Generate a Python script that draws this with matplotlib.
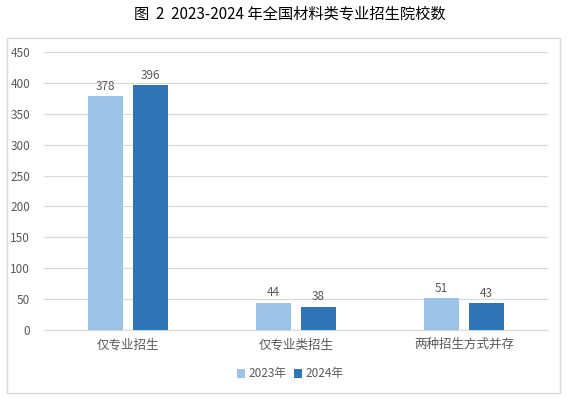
import matplotlib.pyplot as plt
import numpy as np
from matplotlib.patches import Rectangle

plt.rcParams['font.family'] = ['Noto Sans CJK SC', 'DejaVu Sans']

categories = ["仅专业招生", "仅专业类招生", "两种招生方式并存"]
series_names = ["2023年", "2024年"]
values_2023 = [378, 44, 51]
values_2024 = [396, 38, 43]
yticks = [0, 50, 100, 150, 200, 250, 300, 350, 400, 450]

colors = ["#9DC3E6", "#2E75B6"]
text_color = "#595959"

fig = plt.figure(figsize=(5.68, 3.99), dpi=100)
fig.patches.append(Rectangle((7 / 568, 1 - 393 / 399), 553 / 568, 355 / 399,
                             transform=fig.transFigure, fill=False,
                             edgecolor="#D9D9D9", linewidth=1))
ax = fig.add_axes([44 / 568, 1 - 330 / 399, 504 / 568, 278 / 399])

x = np.arange(len(categories))
width = 0.214
offset = 0.134
bars1 = ax.bar(x - offset, values_2023, width, color=colors[0], label=series_names[0], zorder=3)
bars2 = ax.bar(x + offset, values_2024, width, color=colors[1], label=series_names[1], zorder=3)

for bars in [bars1, bars2]:
    for bar in bars:
        h = bar.get_height()
        ax.text(bar.get_x() + bar.get_width() / 2, h + 6, f"{h:.0f}",
                ha="center", va="bottom", fontsize=8.5, color=text_color)

ax.set_xlim(-0.5, len(categories) - 0.5)
ax.set_ylim(0, 450)
ax.set_yticks(yticks)
ax.set_xticks(x)
ax.set_xticklabels(categories, fontsize=9)
ax.tick_params(axis="both", length=0, colors=text_color)
ax.tick_params(axis="y", pad=10, labelsize=8.5)
ax.tick_params(axis="x", pad=6)
ax.yaxis.grid(True, color="#D9D9D9", linewidth=0.8, zorder=0)
for side in ["top", "right", "left"]:
    ax.spines[side].set_visible(False)
ax.spines["bottom"].set_color("#D9D9D9")

fig.text(290 / 568, 1 - 14 / 399, "图  2  2023-2024 年全国材料类专业招生院校数",
         ha="center", va="center", fontsize=11, color="#000000")

fig.legend(loc="center", bbox_to_anchor=(290 / 568, 1 - 374 / 399), ncol=2,
           frameon=False, fontsize=8.5, handlelength=0.7, handleheight=0.7,
           handletextpad=0.3, columnspacing=0.6, labelcolor=text_color)

fig.savefig("out.png", dpi=100)
